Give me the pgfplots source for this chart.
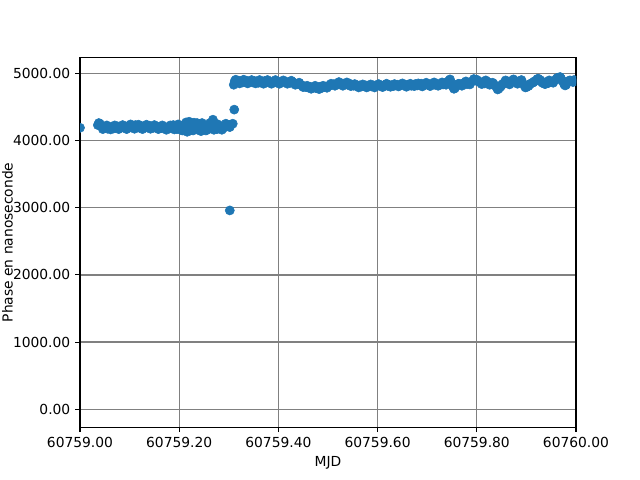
\documentclass[border=0pt]{standalone}
\usepackage{fontspec}
\setmainfont{DejaVu Sans}
\usepackage{pgfplots}
\pgfplotsset{compat=1.18}
\definecolor{mplblue}{HTML}{1F77B4}
\begin{document}
\begin{tikzpicture}
\path[use as bounding box] (-0.80in,-0.528in) rectangle (5.60in,4.272in);
\begin{axis}[
  at={(0,0)}, anchor=south west,
  scale only axis, width=4.96in, height=3.696in,
  xmin=0, xmax=1, ymin=-266, ymax=5234,
  xtick={0,0.2,0.4,0.6,0.8,1},
  xticklabels={60759.00,60759.20,60759.40,60759.60,60759.80,60760.00},
  ytick={0,1000,2000,3000,4000,5000},
  yticklabel style={/pgf/number format/.cd, fixed, fixed zerofill, precision=2, 1000 sep={}, assume math mode=true},
  scaled y ticks=false,
  tick label style={font=\fontsize{10}{12}\selectfont},
  label style={font=\fontsize{10}{12}\selectfont},
  tick align=outside, major tick length=3.5pt,
  tick style={black, line width=0.8pt},
  xtick pos=bottom, ytick pos=left,
  axis line style={black, line width=0.8pt},
  grid=major,
  major grid style={color=gray, line width=1pt},
  xlabel={MJD},
  ylabel={Phase en nanoseconde},
  ylabel style={at={(axis description cs:-0.136,0.5)}, anchor=base, rotate=0},
  clip=true, clip marker paths=true,
]
\addplot[only marks, mark=*, mark size=3.3pt, color=mplblue, mark options={draw=mplblue, fill=mplblue}] table {
x y
0.000 4190
0.036 4230
0.040 4250
0.044 4215
0.048 4190
0.052 4200
0.056 4175
0.060 4190
0.064 4205
0.068 4180
0.072 4195
0.076 4210
0.080 4185
0.084 4200
0.088 4215
0.092 4190
0.096 4205
0.100 4225
0.104 4195
0.108 4210
0.112 4230
0.116 4200
0.120 4190
0.124 4215
0.128 4200
0.132 4210
0.136 4195
0.140 4220
0.144 4200
0.148 4190
0.152 4210
0.156 4195
0.160 4205
0.164 4185
0.168 4200
0.172 4175
0.176 4195
0.180 4180
0.184 4210
0.188 4230
0.192 4200
0.196 4170
0.200 4215
0.204 4160
0.208 4190
0.212 4240
0.216 4130
0.220 4280
0.224 4190
0.228 4150
0.232 4230
0.236 4260
0.240 4200
0.244 4140
0.248 4230
0.252 4190
0.256 4160
0.260 4210
0.264 4260
0.268 4310
0.272 4220
0.276 4170
0.280 4190
0.284 4210
0.288 4180
0.292 4200
0.296 4240
0.300 4220
0.304 4235
0.308 4250
0.302 2960
0.311 4460
0.310 4830
0.312 4885
0.316 4870
0.320 4890
0.324 4875
0.328 4865
0.332 4880
0.336 4890
0.340 4870
0.344 4880
0.348 4865
0.352 4885
0.356 4875
0.360 4860
0.364 4880
0.368 4870
0.372 4885
0.376 4865
0.380 4875
0.384 4860
0.388 4870
0.392 4880
0.396 4865
0.400 4875
0.404 4860
0.408 4870
0.412 4880
0.416 4865
0.420 4870
0.424 4860
0.428 4875
0.432 4855
0.436 4845
0.440 4850
0.444 4830
0.448 4820
0.452 4805
0.456 4795
0.460 4790
0.464 4800
0.468 4785
0.472 4795
0.476 4780
0.480 4790
0.484 4800
0.488 4785
0.492 4795
0.496 4805
0.500 4810
0.504 4820
0.508 4835
0.512 4840
0.516 4830
0.520 4845
0.524 4850
0.528 4835
0.532 4845
0.536 4840
0.540 4830
0.544 4845
0.548 4825
0.552 4815
0.556 4820
0.560 4810
0.564 4820
0.568 4805
0.572 4815
0.576 4820
0.580 4810
0.584 4815
0.588 4805
0.592 4820
0.596 4810
0.600 4815
0.604 4825
0.608 4810
0.612 4820
0.616 4830
0.620 4815
0.624 4825
0.628 4820
0.632 4810
0.636 4825
0.640 4830
0.644 4815
0.648 4825
0.652 4835
0.656 4820
0.660 4830
0.664 4825
0.668 4815
0.672 4830
0.676 4840
0.680 4820
0.684 4830
0.688 4845
0.692 4825
0.696 4835
0.700 4840
0.704 4820
0.708 4835
0.712 4850
0.716 4830
0.720 4840
0.724 4825
0.728 4845
0.732 4835
0.736 4850
0.740 4870
0.744 4890
0.748 4860
0.752 4800
0.756 4780
0.760 4820
0.764 4845
0.768 4830
0.772 4850
0.776 4860
0.780 4840
0.784 4855
0.788 4870
0.792 4885
0.796 4900
0.800 4905
0.804 4880
0.808 4860
0.812 4870
0.816 4850
0.820 4880
0.824 4865
0.828 4845
0.832 4860
0.836 4820
0.840 4790
0.844 4770
0.848 4800
0.852 4840
0.856 4865
0.860 4880
0.864 4850
0.868 4875
0.872 4895
0.876 4880
0.880 4860
0.884 4870
0.888 4890
0.892 4860
0.896 4820
0.900 4795
0.904 4810
0.908 4845
0.912 4860
0.916 4880
0.920 4895
0.924 4920
0.928 4900
0.932 4860
0.936 4845
0.940 4870
0.944 4855
0.948 4880
0.952 4870
0.956 4890
0.960 4910
0.964 4935
0.968 4945
0.972 4890
0.976 4840
0.980 4830
0.984 4870
0.988 4895
0.992 4885
0.996 4900
1.000 4890
};
\addplot[only marks, mark=*, mark size=3.3pt, color=mplblue, mark options={draw=mplblue, fill=mplblue}] table {
x y
0.038 4260
0.046 4170
0.054 4225
0.062 4165
0.070 4225
0.078 4170
0.086 4230
0.094 4170
0.102 4240
0.110 4175
0.118 4235
0.126 4170
0.134 4235
0.142 4175
0.150 4230
0.158 4170
0.166 4225
0.174 4160
0.182 4225
0.190 4165
0.198 4240
0.206 4150
0.214 4270
0.222 4150
0.230 4265
0.238 4160
0.246 4260
0.254 4150
0.262 4260
0.270 4160
0.278 4240
0.286 4160
0.294 4250
0.302 4200
0.314 4905
0.322 4850
0.330 4905
0.338 4850
0.346 4900
0.354 4850
0.362 4900
0.370 4845
0.378 4900
0.386 4845
0.394 4900
0.402 4845
0.410 4895
0.418 4845
0.426 4890
0.434 4830
0.442 4860
0.450 4795
0.458 4815
0.466 4770
0.474 4815
0.482 4765
0.490 4815
0.498 4785
0.506 4845
0.514 4815
0.522 4870
0.530 4815
0.538 4865
0.546 4810
0.554 4840
0.562 4790
0.570 4835
0.578 4790
0.586 4835
0.594 4790
0.602 4840
0.610 4795
0.618 4845
0.626 4800
0.634 4840
0.642 4805
0.650 4850
0.658 4800
0.666 4845
0.674 4810
0.682 4850
0.690 4805
0.698 4860
0.706 4810
0.714 4865
0.722 4815
0.730 4865
0.738 4830
0.746 4910
0.754 4770
0.762 4840
0.770 4815
0.778 4880
0.786 4835
0.794 4915
0.802 4880
0.810 4840
0.818 4895
0.826 4830
0.834 4840
0.842 4760
0.850 4825
0.858 4895
0.866 4835
0.874 4910
0.882 4845
0.890 4900
0.898 4790
0.906 4830
0.914 4865
0.922 4915
0.930 4880
0.938 4840
0.946 4895
0.954 4860
0.962 4930
0.970 4920
0.978 4820
0.986 4890
0.994 4870
};
\end{axis}
\end{tikzpicture}
\end{document}
